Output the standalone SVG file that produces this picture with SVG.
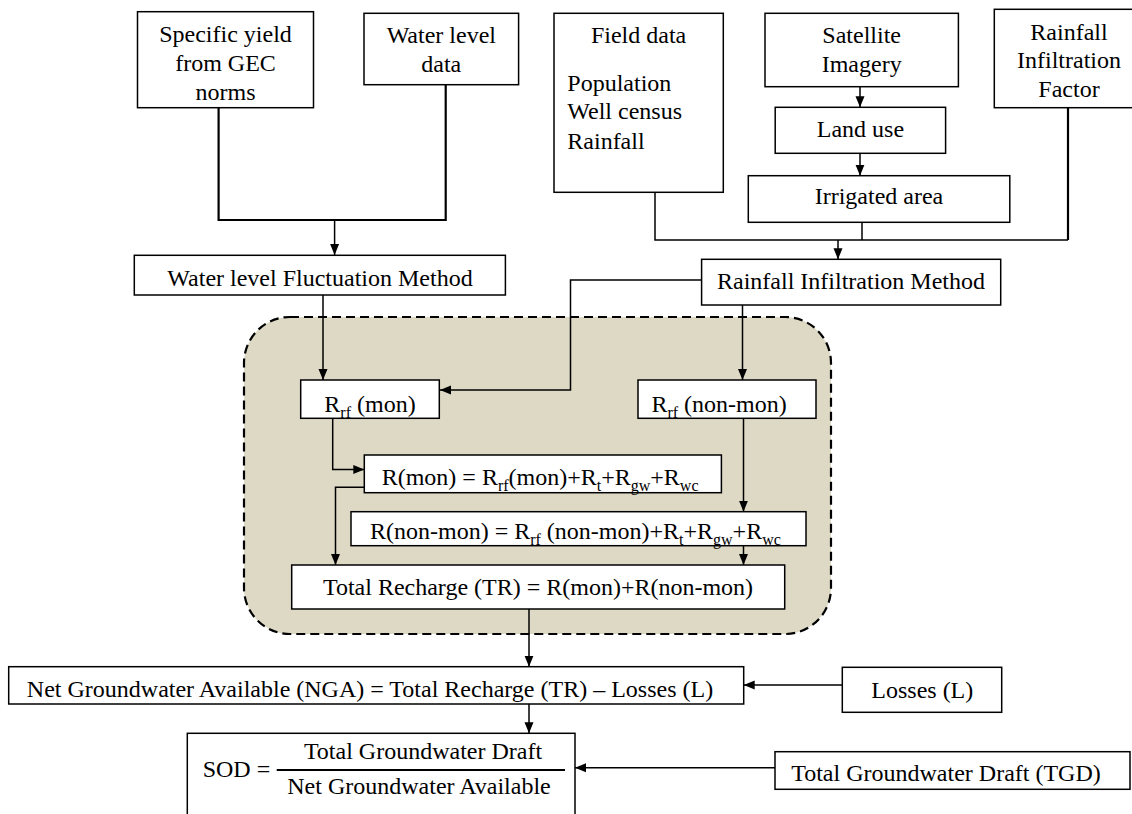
<svg xmlns="http://www.w3.org/2000/svg" width="1132" height="814" viewBox="0 0 1132 814" font-family="'Liberation Serif', 'Times New Roman', Times, serif">
<defs>
<marker id="ah" markerUnits="userSpaceOnUse" markerWidth="12" markerHeight="10" refX="11" refY="5" orient="auto">
<path d="M0,0.5 L11,5 L0,9.5 Z" fill="#000"/>
</marker>
<style>
.box{fill:#fff;stroke:#000;stroke-width:1.5}
.t{font-family:'Liberation Serif','Times New Roman',Times,serif;font-size:24px;fill:#000}
.m{text-anchor:middle}
.s{font-size:16px;fill:#000}
.c{fill:none;stroke:#000;stroke-width:1.5}
.ca{fill:none;stroke:#000;stroke-width:1.5;marker-end:url(#ah)}
.thick{stroke-width:2.2}
</style>
</defs>
<rect width="1132" height="814" fill="#fff"/>

<g id="cluster">
<rect x="244" y="317" width="587" height="317" rx="46" ry="46" fill="#DDD9C4" stroke="#000" stroke-width="2.2" stroke-dasharray="9,5"/>
</g>

<g id="connectors">
<polyline class="c thick" points="218.6,108 218.6,220 445.7,220 445.7,85"/>
<line class="ca" x1="334.6" y1="220" x2="334.6" y2="255"/>
<polyline class="c" points="655,192 655,240 1068,240"/>
<line class="c thick" x1="1068" y1="108" x2="1068" y2="240"/>
<line class="c" x1="862" y1="222" x2="862" y2="240" stroke-width="2.8"/>
<line class="ca" x1="838" y1="240" x2="838" y2="259.3"/>
<line class="ca" x1="860" y1="87" x2="860" y2="107.3"/>
<line class="ca" x1="860" y1="153.3" x2="860" y2="175.7"/>
<line class="ca" x1="323" y1="295" x2="323" y2="380"/>
<polyline class="ca" points="701.6,280 570.5,280 570.5,390 440,390"/>
<line class="ca" x1="742.5" y1="305" x2="742.5" y2="380"/>
<polyline class="ca" points="332.7,418.3 332.7,469.5 364.3,469.5"/>
<polyline class="ca" points="364.3,487.3 335.5,487.3 335.5,565"/>
<line class="ca" x1="743.5" y1="418.3" x2="743.5" y2="511.7"/>
<line class="ca" x1="743.5" y1="545.7" x2="743.5" y2="565"/>
<line class="ca" x1="529" y1="609" x2="529" y2="666.7"/>
<line class="ca" x1="842.3" y1="685" x2="743.7" y2="685"/>
<line class="ca" x1="529" y1="704" x2="529" y2="733.3"/>
<line class="ca" x1="775" y1="767.8" x2="575" y2="767.8"/>
</g>

<g id="specific-yield">
<rect class="box" x="137.5" y="11.7" width="176" height="96"/>
<text class="t m" x="225.5" y="42">Specific yield</text>
<text class="t m" x="225.5" y="71">from GEC</text>
<text class="t m" x="225.5" y="100">norms</text>
</g>

<g id="water-level-data">
<rect class="box" x="364" y="13.3" width="154.6" height="71.4"/>
<text class="t m" x="441.3" y="43">Water level</text>
<text class="t m" x="441.3" y="72">data</text>
</g>

<g id="field-data">
<rect class="box" x="554" y="13.3" width="169.3" height="179"/>
<text class="t m" x="638.6" y="43.3">Field data</text>
<text class="t" x="567.3" y="90.7">Population</text>
<text class="t" x="567.3" y="119">Well census</text>
<text class="t" x="567.3" y="149">Rainfall</text>
</g>

<g id="satellite-imagery">
<rect class="box" x="765" y="13.3" width="193.4" height="73.4"/>
<text class="t m" x="861.7" y="43.3">Satellite</text>
<text class="t m" x="861.7" y="71.7">Imagery</text>
</g>

<g id="land-use">
<rect class="box" x="775.2" y="107.3" width="170.4" height="46"/>
<text class="t m" x="860.4" y="136.7">Land use</text>
</g>

<g id="irrigated-area">
<rect class="box" x="748.3" y="175.7" width="261.5" height="46.6"/>
<text class="t m" x="879" y="204">Irrigated area</text>
</g>

<g id="rainfall-infiltration-factor">
<rect class="box" x="994.3" y="9.3" width="150" height="98.4"/>
<text class="t m" x="1069" y="39.5">Rainfall</text>
<text class="t m" x="1069" y="68.3">Infiltration</text>
<text class="t m" x="1069" y="97.3">Factor</text>
</g>

<g id="wlf-method">
<rect class="box" x="134.3" y="255.3" width="371.1" height="39.7"/>
<text class="t m" x="320" y="286">Water level Fluctuation Method</text>
</g>

<g id="rif-method">
<rect class="box" x="701.6" y="259.3" width="299.1" height="45.7"/>
<text class="t m" x="851" y="288.5">Rainfall Infiltration Method</text>
</g>

<g id="rrf-mon">
<rect class="box" x="300.7" y="380" width="138.6" height="38.3"/>
<text class="t" x="324.3" y="411.5">R<tspan class="s" dy="6">rf</tspan><tspan dy="-6"> (mon)</tspan></text>
</g>

<g id="rrf-non-mon">
<rect class="box" x="638" y="380" width="178" height="38.3"/>
<text class="t" x="651.4" y="411.5">R<tspan class="s" dy="6">rf</tspan><tspan dy="-6"> (non-mon)</tspan></text>
</g>

<g id="r-mon">
<rect class="box" x="364.3" y="455" width="357.1" height="37.7"/>
<text class="t" x="381.7" y="485">R(mon) = R<tspan class="s" dy="6">rf</tspan><tspan dy="-6">(mon)+R</tspan><tspan class="s" dy="6">t</tspan><tspan dy="-6">+R</tspan><tspan class="s" dy="6">gw</tspan><tspan dy="-6">+R</tspan><tspan class="s" dy="6">wc</tspan></text>
</g>

<g id="r-non-mon">
<rect class="box" x="351" y="511.7" width="455" height="34"/>
<text class="t" x="370" y="539">R(non-mon) = R<tspan class="s" dy="6">rf</tspan><tspan dy="-6"> (non-mon)+R</tspan><tspan class="s" dy="6">t</tspan><tspan dy="-6">+R</tspan><tspan class="s" dy="6">gw</tspan><tspan dy="-6">+R</tspan><tspan class="s" dy="6">wc</tspan></text>
</g>

<g id="total-recharge">
<rect class="box" x="291.7" y="565" width="493" height="44"/>
<text class="t m" x="538" y="595">Total Recharge (TR) = R(mon)+R(non-mon)</text>
</g>

<g id="nga">
<rect class="box" x="8.7" y="666.7" width="735" height="37.3"/>
<text class="t m" x="370" y="697">Net Groundwater Available (NGA) = Total Recharge (TR) – Losses (L)</text>
</g>

<g id="losses">
<rect class="box" x="842.3" y="667.3" width="159.4" height="45"/>
<text class="t m" x="922.3" y="698">Losses (L)</text>
</g>

<g id="sod">
<rect class="box" x="187.3" y="733.3" width="387.7" height="100"/>
<text class="t" x="202.7" y="776.5">SOD =</text>
<line x1="276.7" y1="770" x2="565" y2="770" stroke="#000" stroke-width="2.2"/>
<text class="t m" x="423" y="758.5">Total Groundwater Draft</text>
<text class="t m" x="419" y="794">Net Groundwater Available</text>
</g>

<g id="tgd">
<rect class="box" x="775" y="751.7" width="355" height="37.6"/>
<text class="t m" x="946" y="781">Total Groundwater Draft (TGD)</text>
</g>
</svg>
